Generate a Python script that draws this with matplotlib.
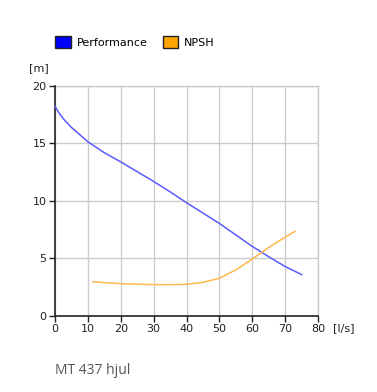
import numpy as np
import matplotlib
matplotlib.use("Agg")
import matplotlib.pyplot as plt
from matplotlib.patches import Patch

# performance curve [l/s] -> [m]
perf_q = [0, 1, 2, 3, 5, 7, 10, 15, 20, 25, 30, 35, 40, 45, 50, 55, 60, 65, 70, 75]
perf_h = [18.25, 17.75, 17.35, 17.0, 16.4, 15.9, 15.15, 14.2, 13.4, 12.55, 11.7, 10.8,
          9.85, 8.95, 8.05, 7.05, 6.05, 5.15, 4.3, 3.6]

# NPSH curve
npsh_q = [11.5, 15, 20, 25, 30, 35, 40, 45, 50, 55, 60, 65, 70, 73]
npsh_h = [2.98, 2.9, 2.81, 2.76, 2.73, 2.72, 2.75, 2.92, 3.28, 4.0, 4.95, 5.95, 6.85, 7.35]

x_ticks = [0, 10, 20, 30, 40, 50, 60, 70, 80]
y_ticks = [0, 5, 10, 15, 20]

fig = plt.figure(figsize=(3.77, 3.92), dpi=100)
ax = fig.add_axes([0.1459, 0.194, 0.6976, 0.5866])

ax.plot(perf_q, perf_h, color="#5a5aff", lw=1.1, zorder=3)
ax.plot(npsh_q, npsh_h, color="#ffb84d", lw=1.1, zorder=3)

ax.set_xlim(0, 80)
ax.set_ylim(0, 20)
ax.set_xticks(x_ticks)
ax.set_yticks(y_ticks)
ax.set_xticklabels([str(t) for t in x_ticks], fontsize=8)
ax.set_yticklabels([str(t) for t in y_ticks], fontsize=8)
ax.tick_params(direction="out", length=4, width=1, color="#222222", labelcolor="#222222", pad=2)
ax.grid(True, color="#cccccc", lw=1)
ax.set_axisbelow(True)
for s in ["top", "right"]:
    ax.spines[s].set_visible(False)
for s in ["left", "bottom"]:
    ax.spines[s].set_color("#222222")
    ax.spines[s].set_linewidth(1.2)
ax.axhline(20, color="#cccccc", lw=1, zorder=0, clip_on=False)
ax.axvline(80, color="#cccccc", lw=1, zorder=0, clip_on=False)

fig.text(0.078, 0.826, "[m]", fontsize=8, color="#222222", ha="left", va="center")
fig.text(0.882, 0.162, "[l/s]", fontsize=8, color="#222222", ha="left", va="center")

handles = [Patch(facecolor="#0000ff", edgecolor="#222222", label="Performance"),
           Patch(facecolor="#ffa500", edgecolor="#222222", label="NPSH")]
fig.legend(handles=handles, loc="center left", bbox_to_anchor=(0.135, 0.893), ncol=2,
           frameon=False, fontsize=8, handlelength=1.4, handleheight=1.4,
           handletextpad=0.5, columnspacing=1.4, borderaxespad=0)

fig.text(0.146, 0.056, "MT 437 hjul", fontsize=10, color="#555555", family="Open Sans",
         ha="left", va="center")

fig.savefig("out.png", dpi=100)
